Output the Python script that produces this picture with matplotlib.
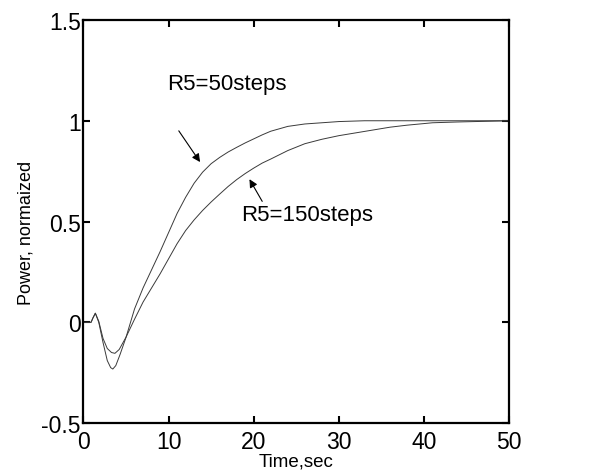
import matplotlib
matplotlib.use("Agg")
import matplotlib.pyplot as plt

# step response, normalized power
t_50 = [0, 0.9, 1.1, 1.4, 1.8, 2.3, 2.8, 3.2, 3.45, 3.8, 4.3, 5.0, 6.0, 7.0, 8.0,
        9.0, 10.0, 11.0, 12.0, 13.0, 14.0, 15.0, 16.0, 17.0, 18.0, 19.0, 20.0,
        21.0, 22.0, 24.0, 26.0, 28.0, 30.0, 33.0, 36.0, 40.0, 45.0, 50.0]
p_50 = [0, 0, 0.02, 0.045, 0.0, -0.1, -0.19, -0.225, -0.232, -0.215, -0.16, -0.075,
        0.066, 0.17, 0.26, 0.35, 0.445, 0.54, 0.62, 0.69, 0.745, 0.787, 0.818,
        0.845, 0.868, 0.89, 0.91, 0.93, 0.948, 0.972, 0.984, 0.99, 0.996, 1.0, 1.0,
        1.0, 1.0, 1.0]

t_150 = [0, 0.9, 1.1, 1.4, 1.8, 2.3, 2.8, 3.3, 3.7, 4.2, 5.0, 6.0, 7.0, 8.0, 9.0,
         10.0, 11.0, 12.0, 13.0, 14.0, 15.0, 16.0, 17.0, 18.0, 19.0, 20.0, 21.0,
         22.0, 24.0, 26.0, 28.0, 30.0, 32.0, 34.0, 36.0, 38.0, 41.0, 44.0, 47.0, 50.0]
p_150 = [0, 0, 0.02, 0.045, 0.005, -0.08, -0.13, -0.15, -0.154, -0.135, -0.074,
         0.015, 0.1, 0.17, 0.24, 0.315, 0.39, 0.455, 0.508, 0.555, 0.597, 0.636,
         0.674, 0.708, 0.738, 0.765, 0.79, 0.81, 0.852, 0.886, 0.908, 0.926, 0.94,
         0.954, 0.968, 0.978, 0.99, 0.994, 0.997, 1.0]

x_ticks = [0, 10, 20, 30, 40, 50]
y_ticks = [-0.5, 0, 0.5, 1, 1.5]
y_tick_labels = ["-0.5", "0", "0.5", "1", "1.5"]

plt.rcParams["font.family"] = ["Liberation Sans", "DejaVu Sans"]

fig = plt.figure(figsize=(6.09, 4.77), dpi=100)
ax = fig.add_axes([0.137, 0.111, 0.699, 0.845])

line_color = "#3a3a3a"
ax.plot(t_50, p_50, color=line_color, lw=0.7)
ax.plot(t_150, p_150, color=line_color, lw=0.7)

ax.set_xlim(0, 50)
ax.set_ylim(-0.5, 1.5)
ax.set_xticks(x_ticks)
ax.set_yticks(y_ticks)
ax.set_yticklabels(y_tick_labels)
ax.tick_params(direction="in", length=5, width=1.5, labelsize=16.5, pad=2,
               top=True, right=True)
ax.tick_params(axis="x", pad=5)
for sp in ax.spines.values():
    sp.set_linewidth(1.6)

ax.set_xlabel("Time,sec", fontsize=13.5, labelpad=0)
ax.set_ylabel("Power, normaized", fontsize=13)
ax.yaxis.set_label_coords(-0.115, 0.474)

arrow = dict(arrowstyle="-|>", color="black", lw=0.8, mutation_scale=12,
             shrinkA=0, shrinkB=0)
ax.text(16.9, 1.186, "R5=50steps", fontsize=16, ha="center", va="center")
ax.annotate("", xy=(13.7, 0.795), xytext=(11.2, 0.95), arrowprops=arrow)
ax.text(26.3, 0.537, "R5=150steps", fontsize=16, ha="center", va="center")
ax.annotate("", xy=(19.5, 0.71), xytext=(21.0, 0.60), arrowprops=arrow)

fig.savefig("out.png", dpi=100)
